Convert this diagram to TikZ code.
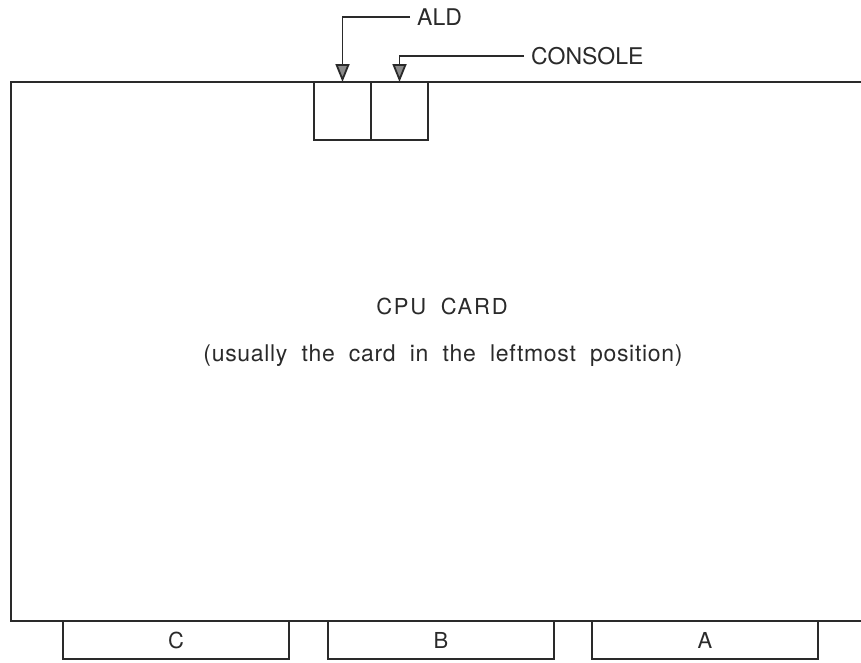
\documentclass[tikz,border=0pt]{standalone}
\usepackage{fontspec}
\setsansfont{TeX Gyre Heros}
\usetikzlibrary{positioning, arrows.meta}
\definecolor{cInk}{HTML}{2A2A2A}
\tikzset{
  card/.style={
    rectangle, draw=cInk, line width=1.8pt,
    inner sep=0pt, outer sep=0pt,
    minimum width=900pt, minimum height=539pt
  },
  slot/.style={
    rectangle, draw=cInk, line width=1.8pt,
    inner sep=0pt, outer sep=0pt,
    minimum width=57pt, minimum height=58pt
  },
  edgeconn/.style={
    rectangle, draw=cInk, line width=1.8pt,
    inner sep=0pt, outer sep=0pt,
    minimum width=226pt, minimum height=38pt,
    font=\sffamily\fontsize{22}{24}\selectfont, text=cInk
  },
  ptr/.style={
    -{Triangle[length=18pt, width=14pt, fill=cInk!55]},
    draw=cInk, line width=1.8pt
  },
  lbl/.style={
    font=\sffamily\fontsize{23}{25}\selectfont, text=cInk,
    anchor=west, inner ysep=0pt, inner xsep=7pt
  },
  title/.style={
    font=\sffamily\fontsize{22}{24}\selectfont\addfontfeature{LetterSpace=8},
    text=cInk, inner sep=0pt
  }
}

\begin{document}
\begin{tikzpicture}[x=1pt, y=-1pt]

\clip (0,0) rectangle (861,662);

%% ── Card ─────────────────────────────────────────────────────────

% CPU card (runs past the right edge)
\node[card, anchor=north west] (cpu) at (11,82) {};

% slots on the top edge
\node[slot, anchor=north west] (aldslot) at (314,82) {};
\node[slot, right=0pt of aldslot] (conslot) {};

% edge connectors
\node[edgeconn, anchor=north west] (conC) at (63,621) {C};
\node[edgeconn, right=39pt of conC] (conB) {B};
\node[edgeconn, right=38pt of conB] (conA) {A};

%% ── Texts ────────────────────────────────────────────────────────

\node[title] (name) at (442,306) {CPU\hspace{0.3em} CARD};
\node[title, font=\sffamily\fontsize{23}{25}\selectfont\addfontfeature{LetterSpace=3}]
  (note) at (443,356)
  {(usually\ \ the\ \ card\ \ in\ \ the\ \ leftmost\ \ position)};

%% ── Pointers ─────────────────────────────────────────────────────

\node[lbl] (ald) at (410,17) {ALD};
\node[lbl] (console) at (524,56) {CONSOLE};

% ALD
\draw[ptr] (ald.west) -| (aldslot.north);

% CONSOLE
\draw[ptr] (console.west) -| (conslot.north);

\end{tikzpicture}
\end{document}
